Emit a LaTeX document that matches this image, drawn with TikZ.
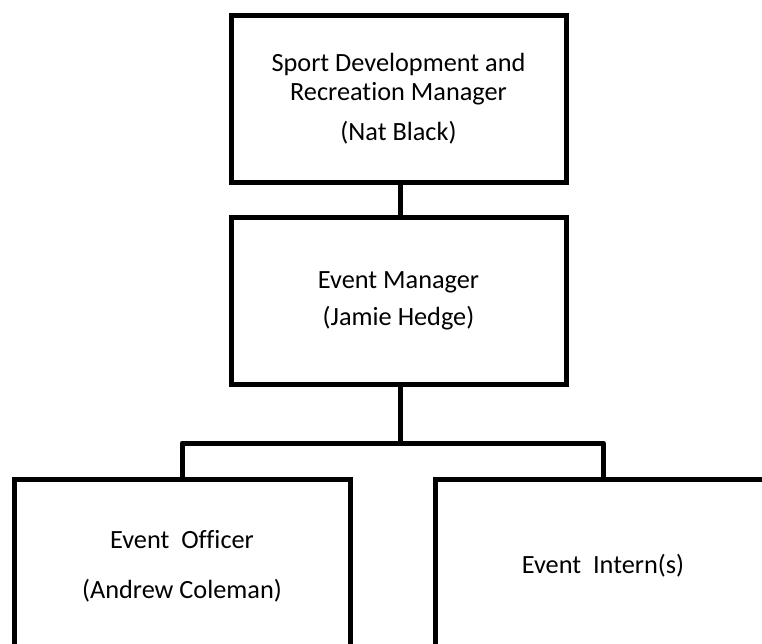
\documentclass[tikz,border=0pt]{standalone}
\usepackage{fontspec}
\setmainfont[Ligatures=NoCommon]{Carlito}
\usetikzlibrary{positioning}
\tikzset{
    mynode/.style = {rectangle, draw=black, line width=5pt, inner sep=0pt, align=center, fill=white,
                     minimum width=335pt, minimum height=167pt, font=\fontsize{26.3}{29}\selectfont},
    mynodel/.style = {mynode, minimum width=336pt, minimum height=174pt},
    edgen/.style = {-, line width=5pt, black, line join=round}
}

\begin{document}
\begin{tikzpicture}[x=1pt, y=-1pt]
\useasboundingbox (0,0) rectangle (762,643);
\clip (0,0) rectangle (762,643);
% boxes
\node[mynode] (T) at (398.5,99) {Sport Development and\\Recreation Manager\\[11pt](Nat Black)};
\node[mynode] (M) at (398.5,301) {Event Manager\\[8pt](Jamie Hedge)};
\node[mynodel] (L) at (182,566) {Event~~Officer\\[21pt](Andrew Coleman)};
\node[mynodel] (R) at (603,566) {Event~~Intern(s)};
% links
\coordinate (split) at (400,443);
\draw[edgen] (T.south -| split) -- (M.north -| split);
\draw[edgen] (M.south -| split) -- (split);
\draw[edgen] (L.north) |- (split) -| (R.north);
\end{tikzpicture}
\end{document}
